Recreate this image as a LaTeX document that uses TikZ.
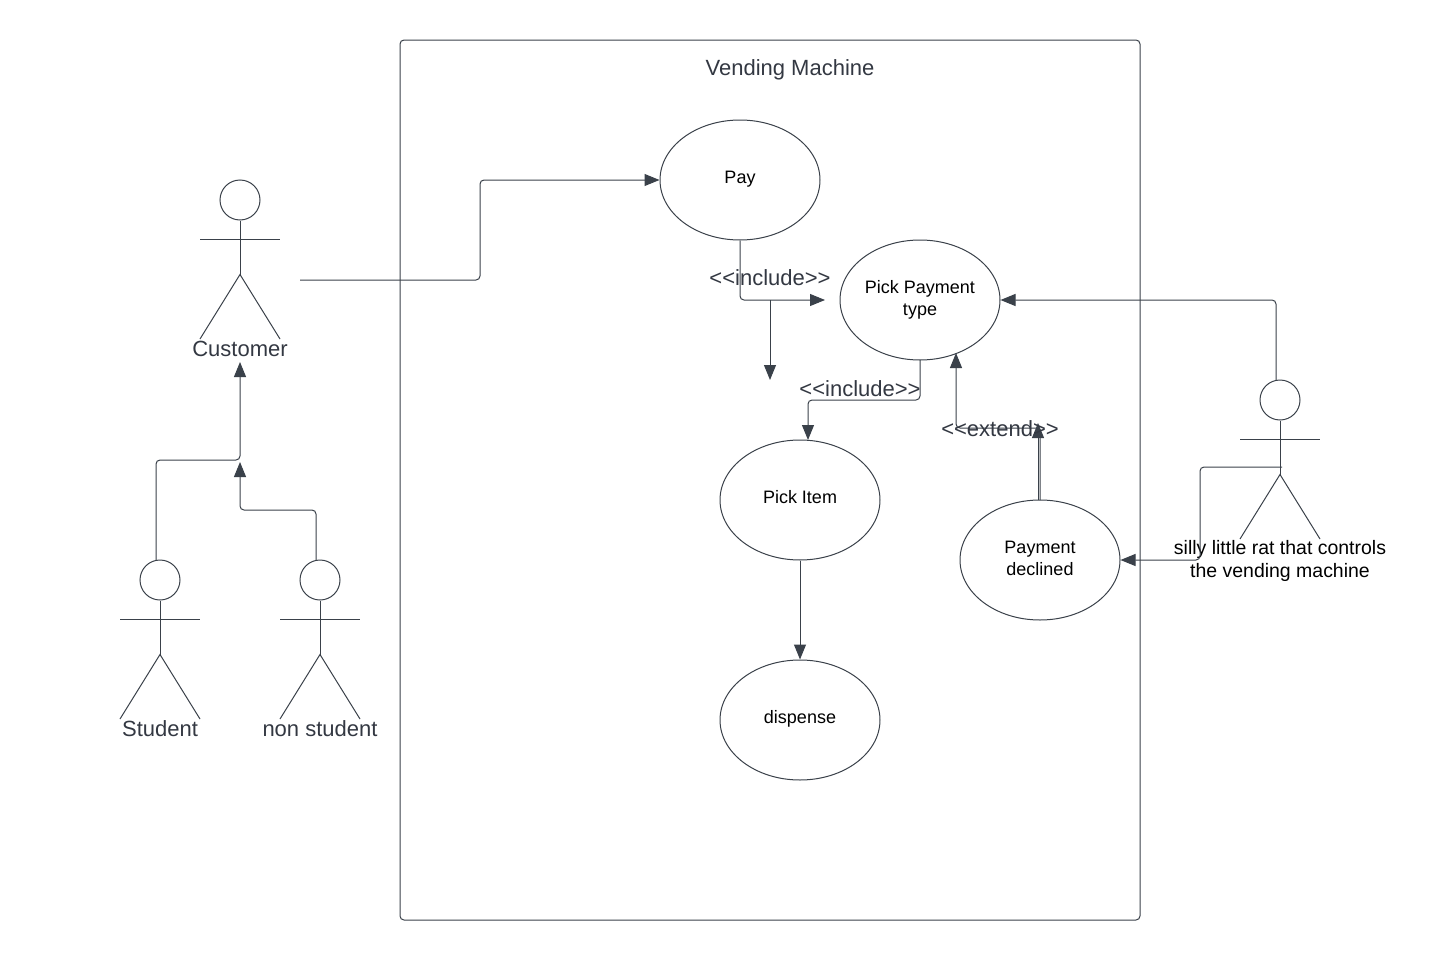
\documentclass[tikz,border=0pt]{standalone}
\usepackage{fontspec}
\setmainfont{Liberation Sans}
\usetikzlibrary{arrows.meta,positioning,shapes.geometric}
\definecolor{my_line}{RGB}{58, 65, 74}
\definecolor{my_text}{RGB}{51, 56, 66}
\tikzset{
  frame/.style = {draw=my_line, rounded corners=3pt, line width=0.75pt},
  usecase/.style = {draw=my_line, ellipse, minimum width=160*0.75pt, minimum height=120*0.75pt,
  inner sep=0pt, align=center, text=black, font=\fontsize{13.5}{16.5}\selectfont},
  head/.style = {draw=my_line, circle, minimum size=40*0.75pt, inner sep=0pt},
  limb/.style = {draw=my_line, line width=0.75pt},
  lbl/.style = {align=center, inner sep=0pt, text=my_text, font=\fontsize{16.5}{17.5}\selectfont},
  link/.style = {draw=my_line, line width=0.75pt, rounded corners=3pt,
  -{Triangle[length=15*0.75pt,width=12*0.75pt]}}
}
% stick figure: head node is #1, centred at the given coordinate
\newcommand{\actor}[3]{
  \node (#1) [head] at (#2,#3) {};
  \draw [limb] (#1.south) -- ++(0,54) coordinate (#1_hip);
  \draw [limb] (#2-40,#3+39.5) coordinate (#1_armL) -- (#2+40,#3+39.5) coordinate (#1_armR);
  \draw [limb] (#2-40,#3+139) coordinate (#1_legL) -- (#1_hip) -- (#2+40,#3+139) coordinate (#1_legR);
}
% two centred lines, lifted a little
\newcommand{\liftlines}[3]{\raisebox{#1}{\begin{tabular}{@{}c@{}}#2\\#3\end{tabular}}}
\begin{document}
\begin{tikzpicture}[x=0.75pt,y=-0.75pt,line width=0.75pt]
  \useasboundingbox (0,0) rectangle (1440,960);
  \node (machine) [frame, minimum width=740*0.75pt, minimum height=880*0.75pt, inner sep=0pt] at (770,480) {};
  \node (title) [lbl] at (790,70) {Vending Machine};

  % use cases
  \node (pay) [usecase] at (740,180) {\raisebox{3.75pt}{Pay}};
  \node (type) [usecase] at (920,300) {\liftlines{1.5pt}{Pick Payment}{type}};
  \node (item) [usecase] at (800,500) {\raisebox{4.5pt}{Pick Item}};
  \node (declined) [usecase] at (1040,560) {\liftlines{3pt}{Payment}{declined}};
  \node (dispense) [usecase] at (800,720) {\raisebox{4.5pt}{dispense}};

  % actors
  \actor{customer}{240}{200}
  \actor{student}{160}{580}
  \actor{nonstudent}{320}{580}
  \actor{rat}{1280}{400}
  \node (customer_l) [lbl] at (240,349) {Customer};
  \node (student_l) [lbl] at (160,729) {Student};
  \node (nonstudent_l) [lbl] at (320,729) {non student};
  \node (rat_l) [lbl, text=black, font=\fontsize{14.6}{17.3}\selectfont] at (1280,561) {silly little rat that controls\\the vending machine};

  % free ends
  \coordinate (customer_out) at (300,280);
  \coordinate (include_end) at (825,300);
  \coordinate (branch) at (770,300);
  \coordinate (branch_end) at (770,380);
  \coordinate (student_out) at (156,560);
  \coordinate (nonstudent_out) at (316,560);
  \coordinate (customer_in) at (240,362);
  \coordinate (join) at (240,462);
  \coordinate (rat_top) at (1276,380);
  \coordinate (rat_side) at (1282,467);
  \coordinate (type_in) at (956,353);
  \coordinate (extend_up) at (1038,423);
  \coordinate (declined_a) at (1038,500);
  \coordinate (declined_b) at (1040,500);
  \coordinate (type_out) at (920,360);
  \coordinate (item_in) at (808,440);

  % connectors
  \draw [link] (customer_out) -- (480,280) -- (480,180) -- (pay.west);
  \draw [link] (pay.south) -- (740,300) -- (include_end);
  \draw [link] (branch) -- (branch_end);
  \draw [link] (type_out) -- (920,400) -- (808,400) -- (item_in);
  \draw [link] (declined_b) -- (1040,428) -- (956,428) -- (type_in);
  \draw [link] (declined_a) -- (extend_up);
  \draw [link] (rat_top) -- (1276,300) -- (type.east);
  \draw [link] (rat_side) -- (1200,467) -- (1200,560) -- (declined.east);
  \draw [link] (student_out) -- (156,460) -- (240,460) -- (customer_in);
  \draw [link] (nonstudent_out) -- (316,510) -- (240,510) -- (join);
  \draw [link] (item.south) -- (dispense.north);

  \node (include1) [lbl] at (770,277.5) {<{}<include>{}>};
  \node (include2) [lbl] at (860,388.5) {<{}<include>{}>};
  \node (extend) [lbl] at (1000,428.5) {<{}<extend>{}>};
\end{tikzpicture}
\end{document}
